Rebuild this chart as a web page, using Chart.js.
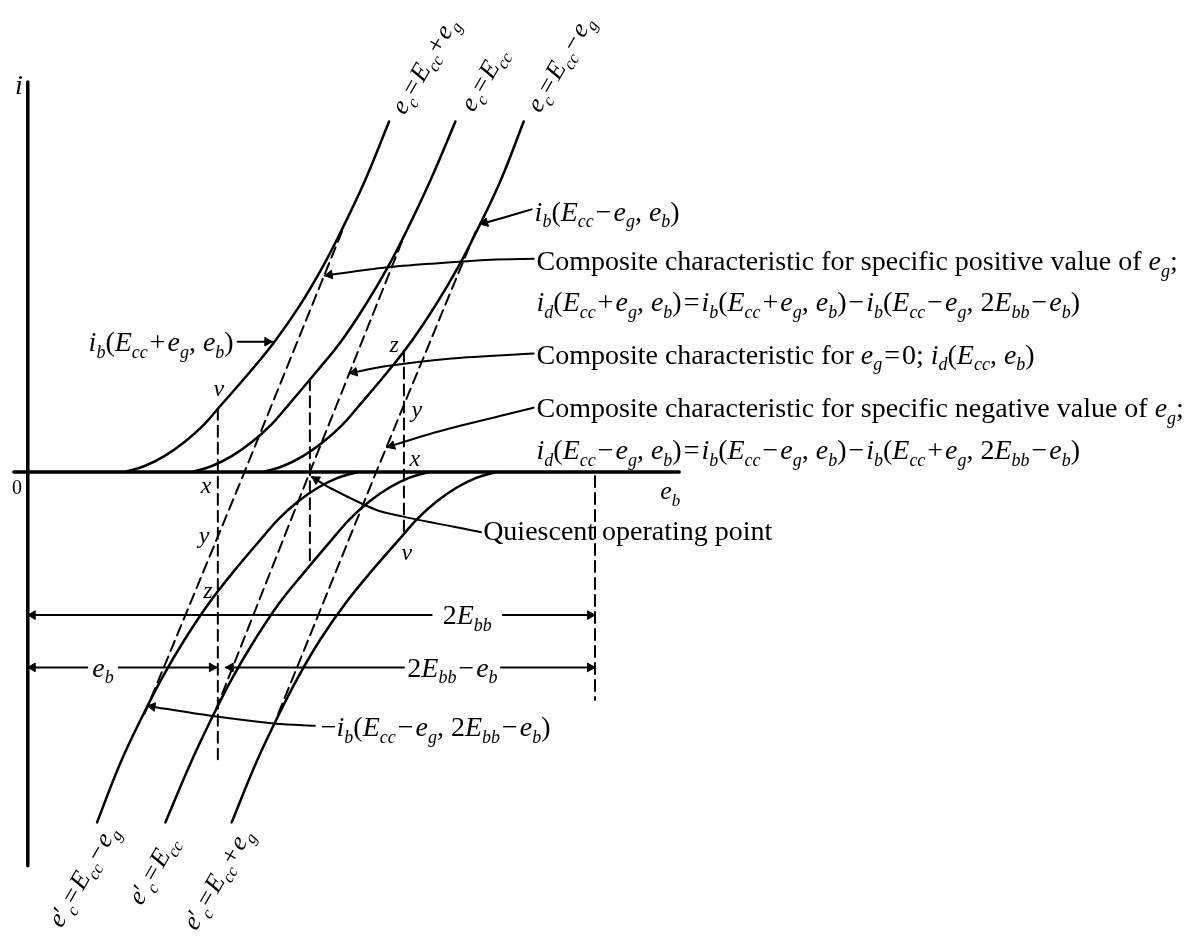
<!DOCTYPE html>
<html>
<head>
<meta charset="utf-8">
<title>Composite characteristics</title>
<script src="https://cdn.jsdelivr.net/npm/chart.js@4.4.1/dist/chart.umd.min.js"></script>
<style>
  html, body { margin: 0; padding: 0; background: #fff; }
  #wrap { width: 1190px; height: 936px; }
</style>
</head>
<body>
<div id="wrap"><canvas id="composite" width="1190" height="936"></canvas></div>
<script>
// e_b runs along x, i along y; origin where the two axes cross

// axes
var axisI = [[0, 395], [0, -399]];
var axisEb = [[-14, 0], [658, 0]];

// tube characteristics above the axis: e_c = Ecc+eg, Ecc, Ecc-eg
var curveEccPlus = [[98,0],[118,6],[138,16],[158,30],[178,48],[192,64],[225,102],[250,133],[275,169],[298,208],[318,247],[341,296],[365,355]];
var curveEcc = [[166,0],[186,6],[206,16],[226,30],[246,48],[260,64],[292,102],[317,133],[341,169],[364,208],[384,247],[407,296],[432,355]];
var curveEccMinus = [[238,0],[258,6],[278,16],[298,30],[318,48],[332,64],[364,102],[388,133],[412,169],[435,208],[455,247],[478,296],[501,355]];

// inverted characteristics below the axis: e'_c = Ecc-eg, Ecc, Ecc+eg
var invEccMinus = [[70,-355],[93,-296],[116,-247],[136,-208],[159,-169],[183,-133],[207,-102],[239,-64],[253,-48],[273,-30],[293,-16],[313,-6],[333,0]];
var invEcc = [[139,-355],[164,-296],[187,-247],[207,-208],[230,-169],[254,-133],[279,-102],[311,-64],[325,-48],[345,-30],[365,-16],[385,-6],[405,0]];
var invEccPlus = [[206,-355],[230,-296],[253,-247],[273,-208],[296,-169],[321,-133],[346,-102],[379,-64],[393,-48],[413,-30],[433,-16],[453,-6],[473,0]];

// composite characteristics (dashed)
var compPositive = [[118,-245],[219,0],[318,245]];
var compZero = [[190,-241],[285,0],[381,241]];
var compNegative = [[253,-245],[352,0],[453,245]];

// vertical construction lines (dashed)
var dropV = [[192,64],[192,-291]];
var dropQ = [[285,94],[285,-94]];
var dropZ = [[380,123],[380,-64]];
var drop2Ebb = [[573,-4],[573,-231]];

// dimension lines
var dimTwoEbbA = [[0,-145],[408,-145]];
var dimTwoEbbB = [[480,-145],[573,-145]];
var dimEbA = [[0,-198],[60,-198]];
var dimEbB = [[92,-198],[191,-198]];
var dimRestA = [[200,-198],[380,-198]];
var dimRestB = [[478,-198],[573,-198]];

// leader lines, last point is the arrow tip
var leaderIbMinus = [[509,266],[482,258],[457,251]];
var leaderPositive = [[511,216],[468,215],[408,211],[361,207],[300,199]];
var leaderZero = [[511,120],[428,115],[361,107],[325,100]];
var leaderNegative = [[511,65],[478,57],[411,40],[363,25]];
var leaderIbPlus = [[212,132],[247,132]];
var leaderQuiescent = [[458,-61],[378,-45],[351,-38],[305,-16],[287,-5]];
var leaderNegIb = [[290,-257],[251,-255],[185,-247],[121,-237]];

// text: [x, y, markup, size, align, angle]   ($..$ math, _ subscript, ~ small gap)
var labels = [
    [-9, 392, '$i$', 28, 'center', 0],
    [-11, -16, '0', 20, 'center', 0],
    [649, -19, '$e_b$', 26, 'center', 0],
    [193, 85, '$v$', 24, 'center', 0],
    [180, -13, '$x$', 24, 'center', 0],
    [178, -64, '$y$', 24, 'center', 0],
    [182, -120, '$z$', 24, 'center', 0],
    [370, 130, '$z$', 24, 'center', 0],
    [393, 64, '$y$', 24, 'center', 0],
    [391, 14, '$x$', 24, 'center', 0],
    [383, -81, '$v$', 24, 'center', 0],
    [400, 412, '$e_c~=~E_{cc}~+~e_g$', 26, 'center', -60],
    [460, 398, '$e_c~=~E_{cc}$', 26, 'center', -60],
    [537, 414, '$e_c~=~E_{cc}~−~e_g$', 26, 'center', -60],
    [55, -409, '$e′_c~=~E_{cc}~−~e_g$', 26, 'center', -60],
    [126, -403, '$e′_c~=~E_{cc}$', 26, 'center', -60],
    [191, -412, '$e′_c~=~E_{cc}~+~e_g$', 26, 'center', -60],
    [512, 264, '$i_b(E_{cc}~−~e_g, e_b)$', 28, 'left', 0],
    [514, 214, 'Composite characteristic for specific positive value of $e_g$;', 28, 'left', 0],
    [514, 172, '$i_d(E_{cc}~+~e_g, e_b)~=~i_b(E_{cc}~+~e_g, e_b)~−~i_b(E_{cc}~−~e_g, 2E_{bb}~−~e_b)$', 28, 'left', 0],
    [514, 119, 'Composite characteristic for $e_g~=~0$; $i_d(E_{cc}, e_b)$', 28, 'left', 0],
    [514, 65, 'Composite characteristic for specific negative value of $e_g$;', 28, 'left', 0],
    [514, 22, '$i_d(E_{cc}~−~e_g, e_b)~=~i_b(E_{cc}~−~e_g, e_b)~−~i_b(E_{cc}~+~e_g, 2E_{bb}~−~e_b)$', 28, 'left', 0],
    [460, -60, 'Quiescent operating point', 28, 'left', 0],
    [208, 132, '$i_b(E_{cc}~+~e_g, e_b)$', 28, 'right', 0],
    [296, -258, '$−i_b(E_{cc}~−~e_g, 2E_{bb}~−~e_b)$', 28, 'left', 0],
    [444, -145, '$2E_{bb}$', 28, 'center', 0],
    [76, -198, '$e_b$', 28, 'center', 0],
    [429, -198, '$2E_{bb}~−~e_b$', 28, 'center', 0]
];

var SERIF = '"Liberation Serif", "DejaVu Serif", serif';

function pts(arr) {
    return arr.map(function (p) { return { x: p[0], y: p[1] }; });
}

function line(arr, width, dash, tension) {
    return {
        data: pts(arr),
        showLine: true,
        borderColor: '#000',
        borderWidth: width,
        borderDash: dash || [],
        borderCapStyle: 'round',
        pointRadius: 0,
        tension: tension || 0
    };
}

// arrowheads: [from, tip]
var arrowPairs = [
    [dimTwoEbbA[1], dimTwoEbbA[0]], [dimTwoEbbB[0], dimTwoEbbB[1]],
    [dimEbA[1], dimEbA[0]], [dimEbB[0], dimEbB[1]],
    [dimRestA[1], dimRestA[0]], [dimRestB[0], dimRestB[1]]
];
[leaderIbMinus, leaderPositive, leaderZero, leaderNegative, leaderIbPlus, leaderQuiescent, leaderNegIb].forEach(function (l) {
    arrowPairs.push([l[l.length - 2], l[l.length - 1]]);
});

var ARROW_R = 5;
var arrowPts = [], arrowRot = [];
arrowPairs.forEach(function (pair) {
    var dx = pair[1][0] - pair[0][0], dy = pair[1][1] - pair[0][1];
    var len = Math.sqrt(dx * dx + dy * dy);
    arrowPts.push({ x: pair[1][0] - dx / len * ARROW_R, y: pair[1][1] - dy / len * ARROW_R });
    arrowRot.push(Math.atan2(dx, dy) * 180 / Math.PI);
});

function tokenize(str) {
    var out = [], math = false, i = 0;
    function add(t, sub, it) {
        var last = out[out.length - 1];
        if (last && !last.gap && last.sub === sub && last.it === it) last.t += t;
        else out.push({ t: t, sub: sub, it: it });
    }
    while (i < str.length) {
        var c = str[i];
        if (c === '$') { math = !math; i++; continue; }
        if (c === '~') { out.push({ t: '', gap: true }); i++; continue; }
        if (c === '_') {
            var sub;
            if (str[i + 1] === '{') {
                var j = str.indexOf('}', i);
                sub = str.slice(i + 2, j);
                i = j + 1;
            } else {
                sub = str[i + 1];
                i += 2;
            }
            add(sub, true, true);
            continue;
        }
        add(c, false, math && /[A-Za-z]/.test(c));
        i++;
    }
    return out;
}

function fontFor(tok, size) {
    var s = tok.sub ? Math.round(size * 0.64) : size;
    return (tok.it ? 'italic ' : '') + s + 'px ' + SERIF;
}

function drawRich(ctx, str, x, y, size, align, angle) {
    var toks = tokenize(str);
    var w = 0;
    toks.forEach(function (t) {
        if (t.gap) {
            t.w = size * 0.07;
        } else {
            ctx.font = fontFor(t, size);
            t.w = ctx.measureText(t.t).width;
        }
        w += t.w;
    });
    ctx.save();
    ctx.translate(x, y);
    if (angle) ctx.rotate(angle * Math.PI / 180);
    var cx = align === 'center' ? -w / 2 : (align === 'right' ? -w : 0);
    var base = size * 0.33;
    ctx.fillStyle = '#000';
    ctx.textBaseline = 'alphabetic';
    ctx.textAlign = 'left';
    toks.forEach(function (t) {
        if (!t.gap) {
            ctx.font = fontFor(t, size);
            ctx.fillText(t.t, cx, base + (t.sub ? size * 0.24 : 0));
        }
        cx += t.w;
    });
    ctx.restore();
}

var textPlugin = {
    id: 'figureText',
    afterDatasetsDraw: function (chart) {
        var ctx = chart.ctx, sx = chart.scales.x, sy = chart.scales.y;
        labels.forEach(function (l) {
            drawRich(ctx, l[2], sx.getPixelForValue(l[0]), sy.getPixelForValue(l[1]), l[3], l[4], l[5]);
        });
    }
};

var dash = [11, 6];
var datasets = [
    line(axisI, 3.5), line(axisEb, 3.5),
    line(curveEccPlus, 2.5, null, 0.4), line(curveEcc, 2.5, null, 0.4), line(curveEccMinus, 2.5, null, 0.4),
    line(invEccMinus, 2.5, null, 0.4), line(invEcc, 2.5, null, 0.4), line(invEccPlus, 2.5, null, 0.4),
    line(compPositive, 2, dash), line(compZero, 2, dash), line(compNegative, 2, dash),
    line(dropV, 2, dash), line(dropQ, 2, dash), line(dropZ, 2, dash), line(drop2Ebb, 2, dash),
    line(dimTwoEbbA, 2), line(dimTwoEbbB, 2), line(dimEbA, 2), line(dimEbB, 2), line(dimRestA, 2), line(dimRestB, 2),
    line(leaderIbMinus, 2, null, 0.3), line(leaderPositive, 2, null, 0.3), line(leaderZero, 2, null, 0.3),
    line(leaderNegative, 2, null, 0.3), line(leaderIbPlus, 2), line(leaderQuiescent, 2, null, 0.3),
    line(leaderNegIb, 2, null, 0.3),
    {
        data: arrowPts,
        showLine: false,
        pointStyle: 'triangle',
        pointRadius: ARROW_R,
        pointRotation: arrowRot,
        pointBackgroundColor: '#000',
        pointBorderColor: '#000',
        pointBorderWidth: 1
    }
];

new Chart(document.getElementById('composite').getContext('2d'), {
    type: 'scatter',
    data: { datasets: datasets },
    options: {
        responsive: false,
        animation: false,
        devicePixelRatio: 1,
        events: [],
        layout: { padding: 0 },
        plugins: { legend: { display: false }, tooltip: { enabled: false } },
        scales: {
            x: { type: 'linear', min: -22, max: 1168, display: false },
            y: { type: 'linear', min: -464, max: 472, display: false }
        }
    },
    plugins: [textPlugin]
});
</script>
</body>
</html>
